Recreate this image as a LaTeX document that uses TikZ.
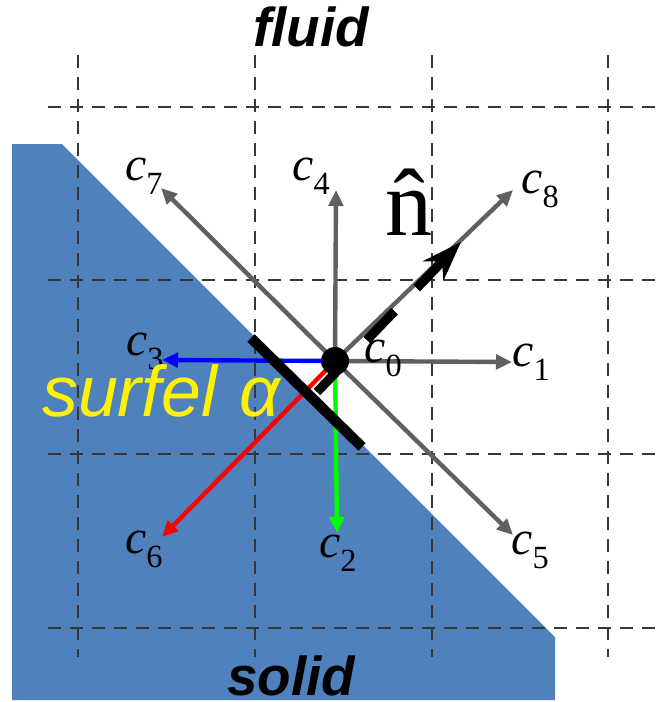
\documentclass[tikz,border=0pt]{standalone}
\usepackage{fontspec}
\setmainfont{Liberation Serif}
\setsansfont{Liberation Sans}
\usetikzlibrary{arrows.meta}
\definecolor{solidblue}{RGB}{79,129,189}
\definecolor{vecgray}{RGB}{96,96,96}
\definecolor{gridgray}{RGB}{55,55,55}
\newcommand{\clab}[1]{{\fontsize{34}{34}\selectfont\itshape c}{\fontsize{23}{23}\selectfont\raisebox{-10pt}{#1}}}

\begin{document}
\begin{tikzpicture}[x=0.25mm, y=-0.25mm,
  gridline/.style={gridgray, line width=0.7mm, dash pattern=on 3.3mm off 2.2mm},
  vec/.style={line width=1.1mm, -{Triangle[length=4mm, width=3.6mm]}},
  surfel/.style={black, line width=2.6mm},
  normal/.style={black, line width=2.3mm, dash pattern=on 10mm off 8mm, -{Stealth[length=10mm, width=7mm]}},
  dot/.style={circle, fill=black, minimum size=7mm, inner sep=0pt},
  clabel/.style={anchor=base west, inner sep=0pt},
  region/.style={font=\fontsize{39}{39}\selectfont\sffamily\bfseries\itshape, anchor=base, inner sep=0pt}
]
\path[fill=white, use as bounding box] (0,0) rectangle (657,702);

% ---- Solid region ----
\fill[solidblue] (12,144) -- (62,144) -- (555,637) -- (555,700) -- (12,700) -- cycle;

% ---- Lattice ----
\foreach \gx in {78,255,432,608}
  \draw[gridline] (\gx,55) -- (\gx,657);
\foreach \gy in {107,280,454,628}
  \draw[gridline] (48,\gy) -- (657,\gy);

% ---- Velocity directions ----
\coordinate (o) at (335,361);
\coordinate (t1) at (512,362);
\coordinate (t2) at (337,533);
\coordinate (t3) at (162,360);
\coordinate (t4) at (336,190);
\coordinate (t5) at (513,535);
\coordinate (t6) at (162,537);
\coordinate (t7) at (161,188);
\coordinate (t8) at (513,190);

\draw[vec, vecgray] (o) -- (t1);
\draw[vec, vecgray] (o) -- (t4);
\draw[vec, vecgray] (o) -- (t5);
\draw[vec, vecgray] (o) -- (t7);
\draw[vec, vecgray] (o) -- (t8);
\draw[vec, blue] (o) -- (t3);
\draw[vec, green] (o) -- (t2);
\draw[vec, red] (o) -- (t6);

% ---- Surfel and normal ----
\coordinate (s1) at (251,338);
\coordinate (s2) at (362,447);
\draw[surfel] (s1) -- (s2);

\coordinate (nbase) at (317,392);
\coordinate (ntip) at (461,242);
\draw[normal] (nbase) -- (ntip);

\node[dot] (cell) at (o) {};

% ---- Labels ----
\node[clabel] (lab0) at (364,362) {\clab{0}};
\node[clabel] (lab1) at (512,366) {\clab{1}};
\node[clabel] (lab2) at (319,557) {\clab{2}};
\node[clabel] (lab3) at (126,355) {\clab{3}};
\node[clabel] (lab4) at (292,180) {\clab{4}};
\node[clabel] (lab5) at (511,554) {\clab{5}};
\node[clabel] (lab6) at (125,553) {\clab{6}};
\node[clabel] (lab7) at (125,180) {\clab{7}};
\node[clabel] (lab8) at (521,193) {\clab{8}};

\node[anchor=base west, inner sep=0pt, font=\fontsize{67}{67}\selectfont] (nhat) at (385,235) {\^{n}};

\node[anchor=base west, inner sep=0pt, text=yellow, font=\fontsize{51}{51}\selectfont\sffamily\itshape] (surf) at (42,416) {surfel\hspace{0.3em}α};

\node[region] (fluid) at (311,46) {fluid};
\node[region] (solid) at (291,695) {solid};

\end{tikzpicture}
\end{document}
